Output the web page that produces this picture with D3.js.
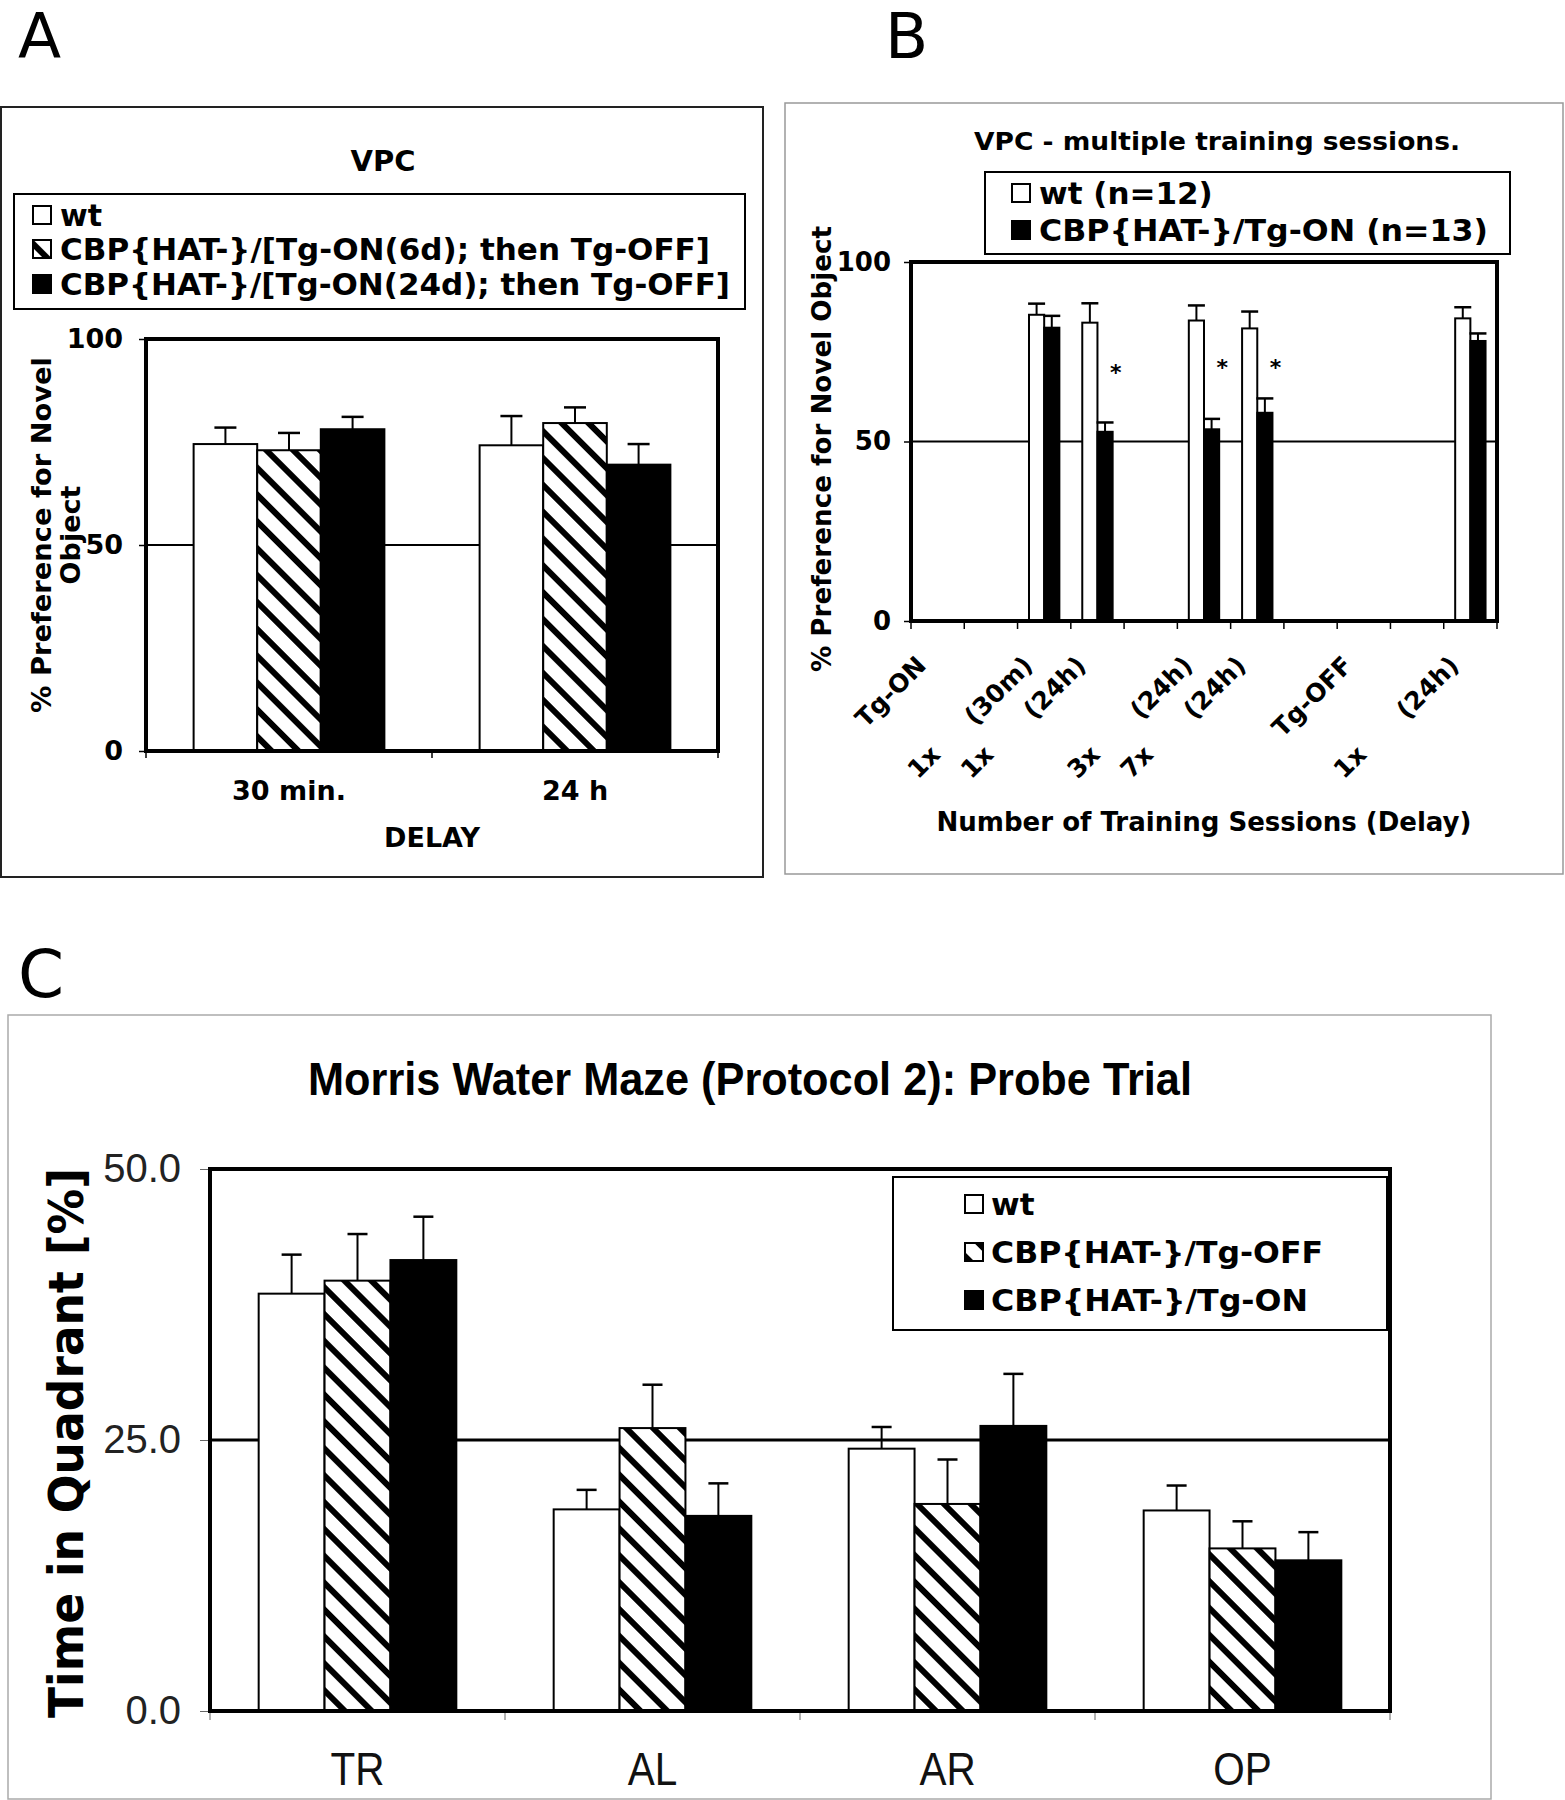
<!DOCTYPE html>
<html><head><meta charset="utf-8">
<script src="https://cdn.jsdelivr.net/npm/d3@7"></script>
<style>body{margin:0;background:#fff} svg{display:block}</style>
</head><body>
<svg id="chart" width="1565" height="1800"></svg>
<script>
// ---------- Panel A data ----------
const aCategories = ["30 min.", "24 h"];
const aSeriesNames = ["wt", "CBP{HAT-}/[Tg-ON(6d); then Tg-OFF]", "CBP{HAT-}/[Tg-ON(24d); then Tg-OFF]"];
const aWt = [74.5, 74.2];
const aWtErr = [4.0, 7.1];
const aOn6d = [73.0, 79.6];
const aOn6dErr = [4.2, 3.8];
const aOn24d = [78.1, 69.5];
const aOn24dErr = [3.0, 5.0];
const aTicks = [0, 50, 100];

// ---------- Panel B data ----------
const bLabelTop = ["Tg-ON", "", "(30m)", "(24h)", "", "(24h)", "(24h)", "", "Tg-OFF", "", "(24h)"];
const bLabelBottom = ["1x", "1x", "", "3x", "7x", "", "", "", "1x", "", ""];
const bSeriesNames = ["wt (n=12)", "CBP{HAT-}/Tg-ON (n=13)"];
const bWt = [null, null, 85.3, 83.1, null, 83.7, 81.5, null, null, null, 84.3];
const bWtErr = [null, null, 3.1, 5.4, null, 4.2, 4.7, null, null, null, 3.1];
const bOn = [null, null, 81.7, 52.7, null, 53.4, 58.0, null, null, null, 78.0];
const bOnErr = [null, null, 3.3, 2.6, null, 2.9, 4.0, null, null, null, 2.1];
const bStar = [null, null, null, 70.5, null, 72, 72, null, null, null, null];
const bTicks = [0, 50, 100];

// ---------- Panel C data ----------
const cCategories = ["TR", "AL", "AR", "OP"];
const cSeriesNames = ["wt", "CBP{HAT-}/Tg-OFF", "CBP{HAT-}/Tg-ON"];
const cWt = [38.5, 18.6, 24.2, 18.5];
const cWtErr = [3.6, 1.8, 2.0, 2.3];
const cOff = [39.7, 26.1, 19.1, 15.0];
const cOffErr = [4.3, 4.0, 4.1, 2.5];
const cOn = [41.6, 18.0, 26.3, 13.9];
const cOnErr = [4.0, 3.0, 4.8, 2.6];
const cTicks = [0, 25, 50];

// ---------- setup ----------
const svg = d3.select("#chart");
svg.append("rect").attr("width", 1565).attr("height", 1800).attr("fill", "#fff");
const defs = svg.append("defs");
const pat = defs.append("pattern").attr("id", "hatch")
  .attr("patternUnits", "userSpaceOnUse").attr("width", 19).attr("height", 19)
  .attr("patternTransform", "rotate(-45)");
pat.append("rect").attr("width", 19).attr("height", 19).attr("fill", "#fff");
pat.append("rect").attr("width", 6).attr("height", 19).attr("fill", "#000");

const fillOf = {white: "#fff", hatch: "url(#hatch)", black: "#000"};
const BOLD = "'DejaVu Sans', Verdana, sans-serif";
const ARIAL = "'Liberation Sans', Arial, sans-serif";

function txt(g, x, y, s, o = {}) {
  const t = g.append("text").attr("x", x).attr("y", y).text(s)
    .attr("font-family", o.family || BOLD)
    .attr("font-size", o.size || 26)
    .attr("font-weight", o.weight || "bold")
    .attr("fill", o.fill || "#000")
    .attr("text-anchor", o.anchor || "start");
  if (o.len) t.attr("textLength", o.len).attr("lengthAdjust", "spacingAndGlyphs");
  if (o.transform) t.attr("transform", o.transform);
  return t;
}

function drawBars(g, domain, x, sub, y, series, capW) {
  series.forEach((s, si) => {
    const data = domain.map((c, i) => ({c, v: s.values[i], e: s.errs[i]})).filter(d => d.v != null);
    const bx = d => x(d.c) + sub(si);
    g.selectAll(null).data(data).join("line")
      .attr("x1", d => bx(d) + sub.bandwidth() / 2).attr("x2", d => bx(d) + sub.bandwidth() / 2)
      .attr("y1", d => y(d.v)).attr("y2", d => y(d.v + d.e))
      .attr("stroke", "#000").attr("stroke-width", 2);
    g.selectAll(null).data(data).join("line")
      .attr("x1", d => bx(d) + sub.bandwidth() / 2 - capW / 2).attr("x2", d => bx(d) + sub.bandwidth() / 2 + capW / 2)
      .attr("y1", d => y(d.v + d.e)).attr("y2", d => y(d.v + d.e))
      .attr("stroke", "#000").attr("stroke-width", 2.5);
    g.selectAll(null).data(data).join("rect")
      .attr("x", bx).attr("width", sub.bandwidth())
      .attr("y", d => y(d.v)).attr("height", d => y(0) - y(d.v))
      .attr("fill", fillOf[s.fill]).attr("stroke", "#000").attr("stroke-width", 2);
  });
}

function legend(g, x0, y0, x1, y1, rows, o) {
  g.append("rect").attr("x", x0).attr("y", y0).attr("width", x1 - x0).attr("height", y1 - y0)
    .attr("fill", "#fff").attr("stroke", "#000").attr("stroke-width", 2);
  rows.forEach(r => {
    g.append("rect").attr("x", o.sx).attr("y", r.cy - 9).attr("width", 18).attr("height", 18)
      .attr("fill", fillOf[r.fill]).attr("stroke", "#000").attr("stroke-width", 2);
    txt(g, o.tx, r.cy + o.size * 0.36, r.name, {size: o.size, len: r.len});
  });
}

// panel letters
txt(svg, 18, 58, "A", {size: 63, weight: "normal"});
txt(svg, 885, 58, "B", {size: 63, weight: "normal"});
txt(svg, 18, 997, "C", {size: 66, weight: "normal"});

// ================= Panel A =================
{
  const g = svg.append("g");
  g.append("rect").attr("x", 1).attr("y", 107).attr("width", 762).attr("height", 770)
    .attr("fill", "none").attr("stroke", "#222").attr("stroke-width", 2);
  const X0 = 146, X1 = 718, Y0 = 339, Y1 = 751;
  const y = d3.scaleLinear().domain([0, 100]).range([Y1, Y0]);
  const x = d3.scaleBand().domain(aCategories).range([X0, X1]);
  const gw = x.bandwidth() * 0.667;
  const sub = d3.scaleBand().domain([0, 1, 2]).range([(x.bandwidth() - gw) / 2, (x.bandwidth() + gw) / 2]);

  txt(g, 383, 171, "VPC", {size: 29, anchor: "middle"});

  g.append("line").attr("x1", X0).attr("x2", X1).attr("y1", y(50)).attr("y2", y(50))
    .attr("stroke", "#000").attr("stroke-width", 2);

  drawBars(g, aCategories, x, sub, y, [
    {values: aWt, errs: aWtErr, fill: "white"},
    {values: aOn6d, errs: aOn6dErr, fill: "hatch"},
    {values: aOn24d, errs: aOn24dErr, fill: "black"}
  ], 22);

  const ya = g.append("g").attr("transform", `translate(${X0},0)`)
    .call(d3.axisLeft(y).tickValues(aTicks).tickSize(7).tickPadding(16).tickFormat(d3.format("d")));
  ya.select(".domain").remove();
  ya.selectAll(".tick line").attr("stroke", "#000").attr("stroke-width", 1.5);
  ya.selectAll(".tick text").attr("font-family", BOLD).attr("font-weight", "bold").attr("font-size", 27).attr("fill", "#000");

  const xa = g.append("g").attr("transform", `translate(0,${Y1})`)
    .call(d3.axisBottom(x).tickSize(0).tickPadding(30));
  xa.select(".domain").remove();
  xa.selectAll(".tick text").attr("font-family", BOLD).attr("font-weight", "bold").attr("font-size", 27).attr("fill", "#000");
  const bounds = aCategories.map(c => x(c)).concat([X1]);
  g.selectAll(null).data(bounds).join("line")
    .attr("x1", d => d).attr("x2", d => d).attr("y1", Y1).attr("y2", Y1 + 7)
    .attr("stroke", "#000").attr("stroke-width", 1.5);

  g.append("rect").attr("x", X0).attr("y", Y0).attr("width", X1 - X0).attr("height", Y1 - Y0)
    .attr("fill", "none").attr("stroke", "#000").attr("stroke-width", 4);

  txt(g, 432, 847, "DELAY", {size: 27, anchor: "middle"});
  txt(g, 0, 0, "% Preference for Novel", {size: 27, anchor: "middle", len: 356, transform: "translate(51,535) rotate(-90)"});
  txt(g, 0, 0, "Object", {size: 27, anchor: "middle", transform: "translate(80,535) rotate(-90)"});

  legend(g, 14, 194, 745, 309, [
    {name: aSeriesNames[0], fill: "white", cy: 215},
    {name: aSeriesNames[1], fill: "hatch", cy: 249, len: 650},
    {name: aSeriesNames[2], fill: "black", cy: 284, len: 670}
  ], {sx: 33, tx: 60, size: 30});
}

// ================= Panel B =================
{
  const g = svg.append("g");
  g.append("rect").attr("x", 785).attr("y", 103).attr("width", 778).attr("height", 771)
    .attr("fill", "none").attr("stroke", "#999").attr("stroke-width", 1.5);
  const X0 = 911, X1 = 1497, Y0 = 262, Y1 = 621;
  const idx = d3.range(bLabelTop.length);
  const y = d3.scaleLinear().domain([0, 100]).range([Y1, Y0]);
  const x = d3.scaleBand().domain(idx).range([X0, X1]);
  const gw = x.bandwidth() * 0.57;
  const sub = d3.scaleBand().domain([0, 1]).range([(x.bandwidth() - gw) / 2, (x.bandwidth() + gw) / 2]);

  txt(g, 1217, 150, "VPC - multiple training sessions.", {size: 25, anchor: "middle", len: 486});

  g.append("line").attr("x1", X0).attr("x2", X1).attr("y1", y(50)).attr("y2", y(50))
    .attr("stroke", "#000").attr("stroke-width", 2);

  drawBars(g, idx, x, sub, y, [
    {values: bWt, errs: bWtErr, fill: "white"},
    {values: bOn, errs: bOnErr, fill: "black"}
  ], 17);

  g.selectAll(null).data(idx.filter(i => bStar[i] != null)).join("text")
    .attr("x", i => x(i) + sub(1) + sub.bandwidth() + 3)
    .attr("y", i => y(bStar[i]) + 12)
    .attr("text-anchor", "middle").attr("font-family", BOLD).attr("font-weight", "bold")
    .attr("font-size", 22).text("*");

  const ya = g.append("g").attr("transform", `translate(${X0},0)`)
    .call(d3.axisLeft(y).tickValues(bTicks).tickSize(7).tickPadding(13).tickFormat(d3.format("d")));
  ya.select(".domain").remove();
  ya.selectAll(".tick line").attr("stroke", "#000").attr("stroke-width", 1.5);
  ya.selectAll(".tick text").attr("font-family", BOLD).attr("font-weight", "bold").attr("font-size", 26).attr("fill", "#000");

  const bounds = idx.map(i => x(i)).concat([X1]);
  g.selectAll(null).data(bounds).join("line")
    .attr("x1", d => d).attr("x2", d => d).attr("y1", Y1).attr("y2", Y1 + 8)
    .attr("stroke", "#000").attr("stroke-width", 1.5);

  g.selectAll(null).data(idx.filter(i => bLabelTop[i])).join("text")
    .attr("transform", i => `translate(${x(i) + x.bandwidth() / 2 - 10},667) rotate(-45)`)
    .attr("text-anchor", "end").attr("font-family", BOLD).attr("font-weight", "bold")
    .attr("font-size", 25).text(i => bLabelTop[i]);
  g.selectAll(null).data(idx.filter(i => bLabelBottom[i])).join("text")
    .attr("transform", i => `translate(${x(i) + x.bandwidth() / 2 + 4},756) rotate(-45)`)
    .attr("text-anchor", "end").attr("font-family", BOLD).attr("font-weight", "bold")
    .attr("font-size", 25).text(i => bLabelBottom[i]);

  g.append("rect").attr("x", X0).attr("y", Y0).attr("width", X1 - X0).attr("height", Y1 - Y0)
    .attr("fill", "none").attr("stroke", "#000").attr("stroke-width", 4);

  txt(g, 1204, 831, "Number of Training Sessions (Delay)", {size: 26, anchor: "middle", len: 535});
  txt(g, 0, 0, "% Preference for Novel Object", {size: 26, anchor: "middle", len: 446, transform: "translate(831,449) rotate(-90)"});

  legend(g, 985, 172, 1510, 254, [
    {name: bSeriesNames[0], fill: "white", cy: 193},
    {name: bSeriesNames[1], fill: "black", cy: 230, len: 449}
  ], {sx: 1012, tx: 1039, size: 31});
}

// ================= Panel C =================
{
  const g = svg.append("g");
  g.append("rect").attr("x", 8).attr("y", 1015).attr("width", 1483).attr("height", 784)
    .attr("fill", "none").attr("stroke", "#aaa").attr("stroke-width", 1.5);
  const X0 = 210, X1 = 1390, Y0 = 1169, Y1 = 1711;
  const y = d3.scaleLinear().domain([0, 50]).range([Y1, Y0]);
  const x = d3.scaleBand().domain(cCategories).range([X0, X1]);
  const gw = x.bandwidth() * 0.67;
  const sub = d3.scaleBand().domain([0, 1, 2]).range([(x.bandwidth() - gw) / 2, (x.bandwidth() + gw) / 2]);

  txt(g, 750, 1095, "Morris Water Maze (Protocol 2): Probe Trial", {family: ARIAL, size: 46, anchor: "middle", len: 884});

  g.append("line").attr("x1", X0).attr("x2", X1).attr("y1", y(25)).attr("y2", y(25))
    .attr("stroke", "#000").attr("stroke-width", 3);

  drawBars(g, cCategories, x, sub, y, [
    {values: cWt, errs: cWtErr, fill: "white"},
    {values: cOff, errs: cOffErr, fill: "hatch"},
    {values: cOn, errs: cOnErr, fill: "black"}
  ], 20);

  const ya = g.append("g").attr("transform", `translate(${X0},0)`)
    .call(d3.axisLeft(y).tickValues(cTicks).tickSize(10).tickPadding(19).tickFormat(d3.format(".1f")));
  ya.select(".domain").remove();
  ya.selectAll(".tick line").attr("stroke", "#666").attr("stroke-width", 1);
  ya.selectAll(".tick text").attr("font-family", ARIAL).attr("font-size", 40).attr("fill", "#222");

  const bounds = cCategories.map(c => x(c)).concat([X1]);
  g.selectAll(null).data(bounds).join("line")
    .attr("x1", d => d).attr("x2", d => d).attr("y1", Y1).attr("y2", Y1 + 9)
    .attr("stroke", "#666").attr("stroke-width", 1);

  g.selectAll(null).data(cCategories).join("text")
    .attr("transform", c => `translate(${x(c) + x.bandwidth() / 2},1785) scale(0.88,1)`)
    .attr("text-anchor", "middle").attr("font-family", ARIAL).attr("font-size", 46)
    .attr("fill", "#111").text(c => c);

  g.append("rect").attr("x", X0).attr("y", Y0).attr("width", X1 - X0).attr("height", Y1 - Y0)
    .attr("fill", "none").attr("stroke", "#000").attr("stroke-width", 4);

  txt(g, 0, 0, "Time in Quadrant [%]", {size: 48, anchor: "middle", len: 550, transform: "translate(83,1443) rotate(-90)"});

  legend(g, 893, 1177, 1387, 1330, [
    {name: cSeriesNames[0], fill: "white", cy: 1204},
    {name: cSeriesNames[1], fill: "hatch", cy: 1252, len: 332},
    {name: cSeriesNames[2], fill: "black", cy: 1300, len: 317}
  ], {sx: 965, tx: 991, size: 31});
}
</script>
</body></html>
